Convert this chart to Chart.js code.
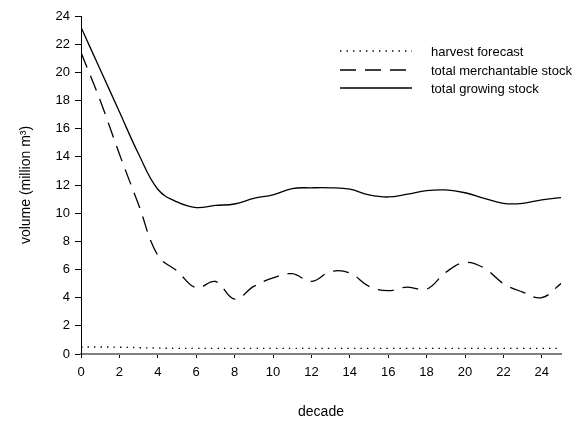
<!DOCTYPE html>
<html>
<head>
<meta charset="utf-8">
<script src="https://cdn.jsdelivr.net/npm/chart.js"></script>
<style>
  html, body { margin: 0; padding: 0; background: #fff; }
  #wrap { width: 572px; height: 422px; }
</style>
</head>
<body>
<div id="wrap"><canvas id="volChart" width="572" height="422"></canvas></div>
<script>
// decades 0..25
var decades = [0,1,2,3,4,5,6,7,8,9,10,11,12,13,14,15,16,17,18,19,20,21,22,23,24,25];
var harvestForecast = [0.5,0.5,0.48,0.45,0.42,0.4,0.4,0.4,0.4,0.4,0.4,0.4,0.4,0.4,0.4,0.4,0.4,0.4,0.4,0.4,0.4,0.4,0.4,0.4,0.4,0.4];
var merchantableStock = [21.4,18.0,14.2,10.6,7.0,5.9,4.7,5.15,3.9,4.8,5.4,5.7,5.15,5.85,5.75,4.8,4.5,4.75,4.6,5.8,6.5,6.1,5.0,4.4,4.0,5.0];
var growingStock = [23.2,20.2,17.2,14.2,11.7,10.8,10.4,10.55,10.65,11.05,11.3,11.75,11.8,11.8,11.7,11.3,11.15,11.35,11.6,11.65,11.45,11.05,10.7,10.7,10.95,11.1];
var seriesNames = ['harvest forecast', 'total merchantable stock', 'total growing stock'];

var FONT = 'Liberation Sans, Arial, sans-serif';

function pts(vals) {
  return decades.map(function (d, i) { return { x: d, y: vals[i] }; });
}

// legend drawn inside the plot, top right
var lineLegend = {
  id: 'lineLegend',
  afterDraw: function (chart) {
    var ctx = chart.ctx;
    var rows = [51, 70, 88];
    ctx.save();
    chart.data.datasets.forEach(function (ds, i) {
      ctx.beginPath();
      ctx.setLineDash(ds.borderDash || []);
      ctx.lineWidth = ds.borderWidth;
      ctx.strokeStyle = ds.borderColor;
      ctx.moveTo(340, rows[i]);
      ctx.lineTo(412, rows[i]);
      ctx.stroke();
      ctx.setLineDash([]);
      ctx.fillStyle = '#000';
      ctx.font = '13px ' + FONT;
      ctx.textBaseline = 'middle';
      ctx.fillText(ds.label, 431, rows[i] + 1);
    });
    ctx.restore();
  }
};

new Chart(document.getElementById('volChart').getContext('2d'), {
  type: 'line',
  data: {
    datasets: [{
      label: seriesNames[0],
      data: pts(harvestForecast),
      borderColor: '#000',
      borderWidth: 1.4,
      borderDash: [1.4, 5.1],
      pointRadius: 0,
      tension: 0.4
    }, {
      label: seriesNames[1],
      data: pts(merchantableStock),
      borderColor: '#000',
      borderWidth: 1.3,
      borderDash: [16, 9],
      pointRadius: 0,
      tension: 0.4
    }, {
      label: seriesNames[2],
      data: pts(growingStock),
      borderColor: '#000',
      borderWidth: 1.3,
      pointRadius: 0,
      tension: 0.4
    }]
  },
  options: {
    responsive: false,
    animation: false,
    layout: { padding: { left: 0, top: 16, right: 11, bottom: 0 } },
    plugins: {
      legend: { display: false },
      tooltip: { enabled: false }
    },
    scales: {
      x: {
        type: 'linear',
        min: 0,
        max: 25,
        afterFit: function (s) { s.height = 68; },
        grid: { drawOnChartArea: false, tickLength: 4, color: '#111' },
        border: { color: '#808080', width: 2 },
        ticks: { stepSize: 2, includeBounds: false, padding: 7, color: '#000', font: { family: FONT, size: 13 } },
        title: { display: true, text: 'decade', color: '#000', padding: { bottom: 1 }, font: { family: FONT, size: 14 } }
      },
      y: {
        min: 0,
        max: 24,
        afterFit: function (s) { s.width = 81; },
        grid: { drawOnChartArea: false, tickLength: 6, color: '#000' },
        border: { color: '#000', width: 1 },
        ticks: { stepSize: 2, padding: 5, color: '#000', font: { family: FONT, size: 13 } },
        title: { display: true, text: 'volume (million m³)', color: '#000', padding: { top: 18 }, font: { family: FONT, size: 14 } }
      }
    }
  },
  plugins: [lineLegend]
});
</script>
</body>
</html>
